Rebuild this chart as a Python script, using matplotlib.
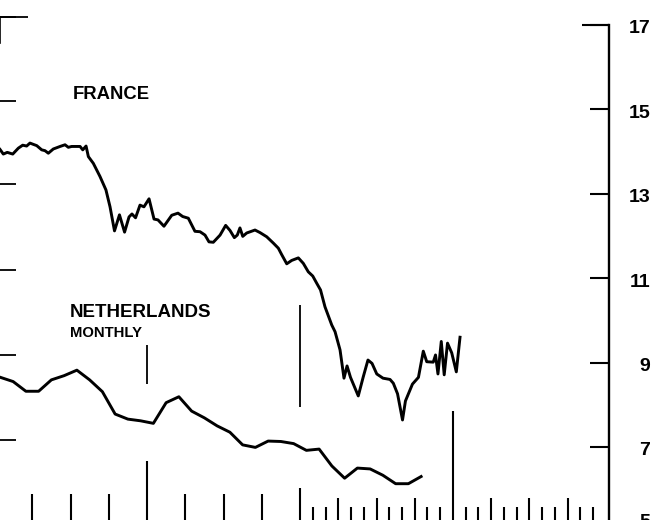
import matplotlib
matplotlib.use('Agg')
import matplotlib.pyplot as plt
import matplotlib.transforms as mtransforms

plt.rcParams['font.family'] = ['Liberation Sans', 'DejaVu Sans']

# ---------------- data (x in months, y in right-axis units) ----------------
france_t = [0.47, 0.73, 1.04, 1.47, 1.91, 2.25, 2.56, 2.82, 3.08, 3.35,
            3.74, 4.00, 4.26, 4.65, 5.18, 5.57, 5.83, 6.09, 6.75, 6.96,
            7.22, 7.40, 7.79, 8.31, 8.78, 9.10, 9.45, 9.84, 10.24, 10.59,
            10.82, 11.10, 11.45, 11.76, 12.16, 12.55, 12.86, 13.33, 13.94, 14.43,
            14.80, 15.24, 15.76, 16.16, 16.55, 16.86, 17.20, 17.73, 18.17, 18.51,
            18.85, 19.08, 19.29, 19.51, 19.82, 20.47, 20.86, 21.39, 21.91, 22.30,
            22.56, 22.96, 23.35, 23.87, 24.26, 24.65, 25.00, 25.31, 25.61, 25.96,
            26.49, 26.75, 27.14, 27.45, 27.69, 27.96, 28.57, 28.96, 29.33, 29.65,
            30.02, 30.51, 31.06, 31.32, 31.65, 32.04, 32.27, 32.82, 33.29, 33.67,
            33.94, 34.45, 34.63, 34.82, 35.08, 35.31, 35.57, 35.90, 36.26, 36.55]
france_v = [14.05, 13.94, 13.98, 13.94, 14.08, 14.15, 14.13, 14.20, 14.17, 14.14,
            14.04, 14.02, 13.96, 14.06, 14.12, 14.16, 14.10, 14.12, 14.12, 14.04,
            14.13, 13.88, 13.72, 13.41, 13.09, 12.69, 12.12, 12.50, 12.09, 12.45,
            12.52, 12.43, 12.73, 12.69, 12.88, 12.40, 12.38, 12.23, 12.49, 12.54,
            12.46, 12.42, 12.11, 12.10, 12.02, 11.86, 11.85, 12.02, 12.25, 12.13,
            11.96, 12.02, 12.19, 11.99, 12.07, 12.14, 12.08, 11.98, 11.83, 11.71,
            11.56, 11.34, 11.42, 11.48, 11.35, 11.15, 11.05, 10.88, 10.72, 10.32,
            9.89, 9.73, 9.30, 8.63, 8.92, 8.65, 8.21, 8.66, 9.06, 8.98,
            8.73, 8.63, 8.60, 8.51, 8.26, 7.64, 8.09, 8.49, 8.65, 9.27,
            9.02, 9.01, 9.18, 8.73, 9.50, 8.71, 9.46, 9.23, 8.78, 9.60]

nl_t = [0.5, 1.5, 2.5, 3.5, 4.5, 5.5, 6.5, 7.5, 8.5, 9.5,
        10.5, 11.5, 12.5, 13.5, 14.5, 15.5, 16.5, 17.5, 18.5, 19.5,
        20.5, 21.5, 22.5, 23.5, 24.5, 25.5, 26.5, 27.5, 28.5, 29.5,
        30.5, 31.5, 32.5, 33.5]
nl_v = [8.65, 8.55, 8.32, 8.32, 8.59, 8.69, 8.82, 8.59, 8.31, 7.78,
        7.66, 7.62, 7.56, 8.05, 8.19, 7.85, 7.69, 7.50, 7.35, 7.05,
        6.99, 7.14, 7.13, 7.08, 6.92, 6.95, 6.55, 6.26, 6.50, 6.48,
        6.33, 6.13, 6.13, 6.30]

right_ticks = [7, 9, 11, 13, 15, 17]
right_labels = ['7', '9', '11', '13', '15', '17']
left_ticks = [17.19, 15.20, 13.23, 11.19, 9.18, 7.17]

quarter_ticks_early = [3, 6, 9, 15, 18, 21]
year_ticks = [12, 24, 36]
year_tick_len = [59, 32, 109]   # pixels
month_ticks = [25, 26, 28, 29, 31, 32, 34, 35, 37, 38, 40, 41, 43, 44, 46, 47]
quarter_ticks_late = [27, 30, 33, 39, 42, 45]

# ---------------- figure ----------------
W, H = 670, 520
fig = plt.figure(figsize=(W / 100, H / 100), dpi=100)
ax = fig.add_axes([0, 0, 1, 1])
ax.set_xlim(0.47, 53.02)
ax.set_ylim(5.27, 17.59)

lw = 2.1
ax.plot(france_t, france_v, color='black', lw=lw, solid_joinstyle='round')
ax.plot(nl_t, nl_v, color='black', lw=lw, solid_joinstyle='round')

# spines
for s in ['top', 'bottom']:
    ax.spines[s].set_visible(False)
ax.spines['right'].set_position(('data', 48.2))
ax.spines['right'].set_bounds(5.27, 17)
ax.spines['right'].set_linewidth(1.7)
ax.spines['left'].set_position(('data', 0.5))
ax.spines['left'].set_bounds(16.57, 17.19)
ax.spines['left'].set_linewidth(1.2)

ax.set_xticks([])
ax.set_yticks(right_ticks)
ax.set_yticklabels(right_labels)
ax.set_yticks(left_ticks, minor=True)
ax.tick_params(axis='y', which='major', left=False, right=True, labelleft=False,
               labelright=True, direction='in', length=19.5 * 0.72, width=1.5,
               pad=41.5 * 0.72, labelsize=14)
ax.tick_params(axis='y', which='minor', left=True, right=False, labelleft=False,
               direction='in', length=16 * 0.72, width=1.3)
shift = mtransforms.ScaledTranslation(0, -2 / 100, fig.dpi_scale_trans)
for lbl in ax.get_yticklabels():
    lbl.set_horizontalalignment('right')
    lbl.set_fontweight('bold')
    lbl.set_transform(lbl.get_transform() + shift)

# longer top ticks
ax.hlines(17, 46.12, 48.2, color='black', lw=1.5)
ax.hlines(17.19, 0.5, 2.67, color='black', lw=1.3)

# bottom time ticks (drawn upward from the bottom edge)
trans = mtransforms.blended_transform_factory(ax.transData, ax.transAxes)
tick_lw = 1.5
ax.vlines(quarter_ticks_early, 0, 26.5 / H, transform=trans, color='black', lw=tick_lw)
for xt, ln in zip(year_ticks, year_tick_len):
    ax.vlines(xt, 0, ln / H, transform=trans, color='black', lw=tick_lw)
ax.vlines(month_ticks, 0, 13.3 / H, transform=trans, color='black', lw=tick_lw)
ax.vlines(quarter_ticks_late, 0, 22.3 / H, transform=trans, color='black', lw=tick_lw)

# event marker lines
ax.vlines(12, 8.49, 9.42, color='black', lw=1.3)
ax.vlines(24, 7.95, 10.36, color='black', lw=1.3)

# texts
fig.text(72.7 / W, 1 - 99.3 / H, 'FRANCE', fontsize=13.3, fontweight='bold',
         ha='left', va='baseline')
fig.text(70 / W, 1 - 316.7 / H, 'NETHERLANDS', fontsize=13.5, fontweight='bold',
         ha='left', va='baseline')
fig.text(70 / W, 1 - 336.7 / H, 'MONTHLY', fontsize=10.7, fontweight='bold',
         ha='left', va='baseline')
fig.text(650 / W, 1 - 514 / H, '5', fontsize=14, fontweight='bold',
         ha='right', va='top')

fig.savefig('out.png', dpi=100)
